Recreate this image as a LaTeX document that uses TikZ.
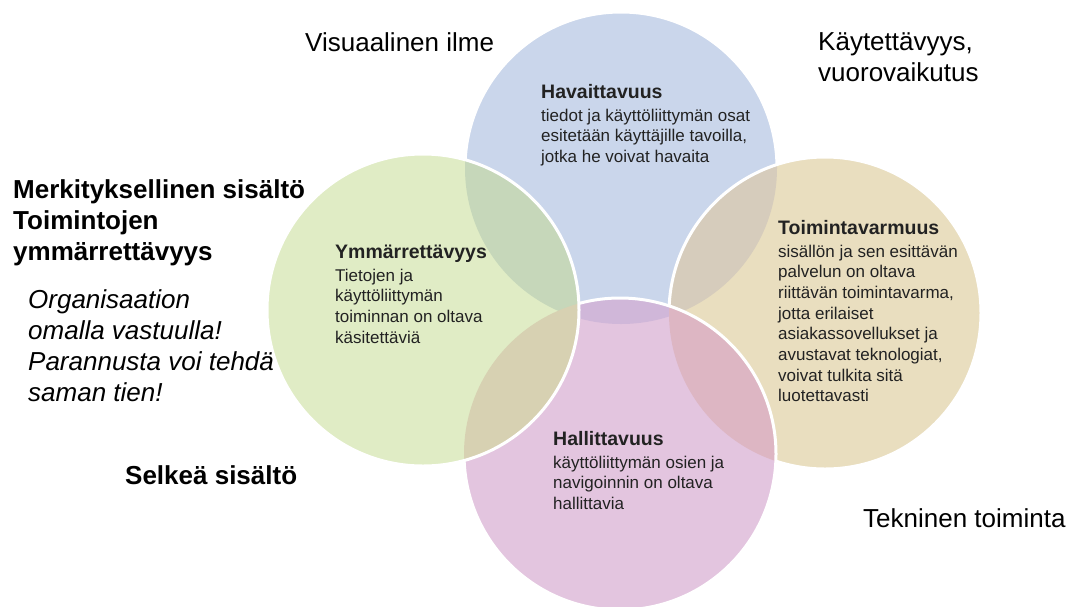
\documentclass[tikz,border=0pt]{standalone}
\usepackage{fontspec}
\setmainfont{Liberation Sans}

\definecolor{havblue}{HTML}{CAD6EB}
\definecolor{ymmgreen}{HTML}{E0ECC5}
\definecolor{toitan}{HTML}{E9DEBF}
\definecolor{halpink}{HTML}{E3C5DF}
\definecolor{tanblue}{HTML}{D6CCBC}
\definecolor{pinkblue}{HTML}{D0B7D9}
\definecolor{pinktan}{HTML}{DDB6C3}
\definecolor{greenblue}{HTML}{C6D7BA}
\definecolor{greenpink}{HTML}{D7D1B2}
\definecolor{textgray}{HTML}{222222}

\tikzset{
    ring/.style={draw=white, line width=3pt},
    sidetext/.style={anchor=north west, inner sep=0pt, align=left, text=black,
        font=\fontsize{26}{31}\selectfont},
    ringtitle/.style={anchor=base west, inner sep=0pt, text=textgray,
        font=\fontsize{19.5}{22}\selectfont\bfseries},
    ringtext/.style={anchor=north west, inner sep=0pt, align=left, text=textgray,
        font=\fontsize{17}{20.7}\selectfont}
}

\begin{document}
\begin{tikzpicture}[x=1pt, y=-1pt]

        \useasboundingbox (0,0) rectangle (1068,606);

        % circles, back to front
        \filldraw[ring, fill=havblue] (621,168) circle (156);

        \fill[toitan] (825,313) circle (156);
        \begin{scope}
            \clip (825,313) circle (156);
            \fill[tanblue] (621,168) circle (156);
        \end{scope}
        \draw[ring] (825,313) circle (156);

        \fill[halpink] (620,454) circle (156);
        \begin{scope}
            \clip (620,454) circle (156);
            \fill[pinkblue] (621,168) circle (156);
            \fill[pinktan] (825,313) circle (156);
        \end{scope}
        \draw[ring] (620,454) circle (156);

        \fill[ymmgreen] (423,310) circle (156);
        \begin{scope}
            \clip (423,310) circle (156);
            \fill[greenblue] (621,168) circle (156);
            \fill[greenpink] (620,454) circle (156);
        \end{scope}
        \draw[ring] (423,310) circle (156);

        % texts in the circles
        \node[ringtitle] (havtitle) at (541,98) {Havaittavuus};
        \node[ringtext] (havtext) at ([yshift=-10.5pt]havtitle.base west) {tiedot ja käyttöliittymän osat\\esitetään käyttäjille tavoilla,\\jotka he voivat havaita};

        \node[ringtitle] (ymmtitle) at (335,258) {Ymmärrettävyys};
        \node[ringtext] (ymmtext) at ([yshift=-10.5pt]ymmtitle.base west) {Tietojen ja\\käyttöliittymän\\toiminnan on oltava\\käsitettäviä};

        \node[ringtitle] (toititle) at (778,234) {Toimintavarmuus};
        \node[ringtext] (toitext) at ([yshift=-10.5pt]toititle.base west) {sisällön ja sen esittävän\\palvelun on oltava\\riittävän toimintavarma,\\jotta erilaiset\\asiakassovellukset ja\\avustavat teknologiat,\\voivat tulkita sitä\\luotettavasti};

        \node[ringtitle] (haltitle) at (553,445) {Hallittavuus};
        \node[ringtext] (haltext) at ([yshift=-10.5pt]haltitle.base west) {käyttöliittymän osien ja\\navigoinnin on oltava\\hallittavia};

        % texts round the circles
        \node[sidetext] (visual) at (305,32) {Visuaalinen ilme};
        \node[sidetext] (usability) at (818,32) {Käytettävyys,\\vuorovaikutus};
        \node[sidetext] (technical) at (863,508) {Tekninen toiminta};
        \node[sidetext, font=\fontsize{26}{31}\selectfont\bfseries] (meaning) at (13,179) {Merkityksellinen sisältö\\Toimintojen\\ymmärrettävyys};
        \node[sidetext, font=\fontsize{26}{31}\selectfont\itshape] (ownwork) at (28,289) {Organisaation\\omalla vastuulla!\\Parannusta voi tehdä\\saman tien!};
        \node[sidetext, font=\fontsize{26}{31}\selectfont\bfseries] (clear) at (125,465) {Selkeä sisältö};

    \end{tikzpicture}
\end{document}
